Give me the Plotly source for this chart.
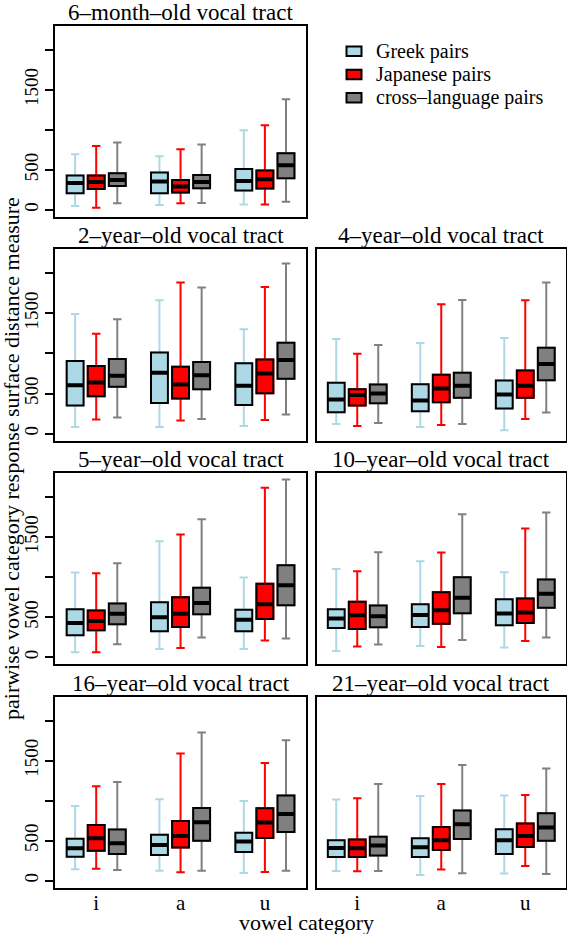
import plotly.graph_objects as go

W, H = 567, 934
FONT = "'Liberation Serif', 'Times New Roman', Times, serif"

vowels = ["i", "a", "u"]
vowel_ticks = [2, 6, 10]
series_names = ["Greek pairs", "Japanese pairs", "cross\u2013language pairs"]
fill_colors = ["#ADD8E6", "#FF0000", "#808080"]
panel_titles = ["6\u2013month\u2013old vocal tract", "2\u2013year\u2013old vocal tract",
                "4\u2013year\u2013old vocal tract", "5\u2013year\u2013old vocal tract",
                "10\u2013year\u2013old vocal tract", "16\u2013year\u2013old vocal tract",
                "21\u2013year\u2013old vocal tract"]
y_tickvals = [0, 500, 1000, 1500, 2000]
y_ticktext = ["0", "500", "", "1500", ""]

# per panel (6m, 2y, 4y, 5y, 10y, 16y, 21y), per vowel (i, a, u)
greek_hi = [[696, 671, 996], [1492, 1663, 1300], [1179, 1129, 1192], [1058, 1450, 996], [1104, 1200, 1063], [933, 1017, 996], [1013, 1058, 1063]]
greek_q3 = [[429, 467, 513], [904, 1013, 879], [633, 617, 663], [600, 688, 592], [600, 663, 725], [525, 575, 600], [504, 529, 642]]
greek_med = [[338, 354, 363], [604, 758, 596], [425, 413, 488], [429, 500, 467], [483, 529, 546], [404, 446, 488], [408, 417, 504]]
greek_q1 = [[208, 208, 242], [350, 383, 358], [267, 279, 313], [275, 325, 325], [367, 379, 400], [300, 321, 358], [296, 296, 333]]
greek_lo = [[50, 63, 67], [83, 83, 96], [121, 83, 42], [63, 104, 104], [79, 142, 121], [142, 125, 96], [121, 71, 88]]

japanese_hi = [[800, 758, 1058], [1246, 1883, 1829], [996, 1613, 1663], [1050, 1533, 2117], [1075, 1308, 1608], [1179, 1588, 1471], [1029, 1208, 1071]]
japanese_q3 = [[429, 375, 492], [842, 833, 925], [554, 733, 788], [583, 750, 917], [692, 813, 733], [696, 746, 904], [513, 671, 713]]
japanese_med = [[350, 292, 383], [638, 613, 750], [483, 563, 596], [454, 542, 663], [525, 588, 558], [529, 558, 725], [404, 504, 558]]
japanese_q1 = [[263, 217, 267], [467, 438, 504], [350, 392, 446], [338, 379, 479], [354, 417, 429], [375, 413, 533], [296, 383, 421]]
japanese_lo = [[29, 83, 67], [175, 163, 171], [96, 108, 183], [63, 117, 208], [133, 129, 204], [150, 104, 108], [117, 138, 183]]

cross_hi = [[842, 817, 1383], [1425, 1821, 2121], [1104, 1667, 1883], [1175, 1725, 2221], [1313, 1788, 1808], [1233, 1850, 1754], [1208, 1446, 1400]]
cross_q3 = [[458, 438, 708], [929, 892, 1133], [613, 758, 1071], [671, 867, 1150], [646, 1000, 971], [638, 908, 1063], [550, 875, 842]]
cross_med = [[375, 350, 558], [721, 729, 917], [500, 596, 867], [542, 679, 900], [513, 742, 792], [467, 729, 833], [438, 704, 663]]
cross_q1 = [[300, 271, 396], [583, 554, 683], [379, 446, 667], [413, 538, 650], [375, 550, 617], [333, 500, 608], [313, 521, 500]]
cross_lo = [[83, 88, 104], [200, 183, 238], [133, 121, 263], [163, 246, 233], [158, 217, 246], [133, 125, 125], [121, 92, 83]]

stats = [
    (greek_lo, greek_q1, greek_med, greek_q3, greek_hi),
    (japanese_lo, japanese_q1, japanese_med, japanese_q3, japanese_hi),
    (cross_lo, cross_q1, cross_med, cross_q3, cross_hi),
]

# layout geometry (pixels)
col_x = [(55.3, 305.8), (316.5, 566.0)]
row_y = [(26.0, 217.0), (249.3, 440.7), (473.3, 664.3), (696.7, 887.7)]
panel_cells = [(0, 0), (1, 0), (1, 1), (2, 0), (2, 1), (3, 0), (3, 1)]

fig = go.Figure()
layout = dict(width=W, height=H, margin=dict(l=0, r=0, t=0, b=0),
              paper_bgcolor="white", plot_bgcolor="white", showlegend=False,
              boxmode="overlay", font=dict(family=FONT, color="black", size=20))
annotations = []
shapes = []

BW = 0.8
for k, (r, c) in enumerate(panel_cells):
    ax = "" if k == 0 else str(k + 1)
    xref, yref = "x" + ax, "y" + ax
    for s in range(3):
        lo, q1, med, q3, hi = stats[s]
        pos = [4 * v + s + 1 for v in range(3)]
        # whiskers
        fig.add_trace(go.Box(x=pos, lowerfence=lo[k], q1=q1[k], median=med[k], q3=q3[k],
                             upperfence=hi[k], width=BW, whiskerwidth=0.5,
                             line=dict(color=fill_colors[s], width=2),
                             fillcolor="rgba(0,0,0,0)", boxpoints=False,
                             hoverinfo="skip", xaxis=xref, yaxis=yref))
        # box body
        fig.add_trace(go.Box(x=pos, lowerfence=q1[k], q1=q1[k], median=med[k], q3=q3[k],
                             upperfence=q3[k], width=BW, whiskerwidth=0,
                             line=dict(color="black", width=2),
                             fillcolor=fill_colors[s], boxpoints=False,
                             hoverinfo="skip", xaxis=xref, yaxis=yref))
        # thick median
        mx, my = [], []
        for v in range(3):
            mx += [pos[v] - BW / 2, pos[v] + BW / 2, None]
            my += [med[k][v], med[k][v], None]
        fig.add_trace(go.Scatter(x=mx, y=my, mode="lines", line=dict(color="black", width=4),
                                 hoverinfo="skip", xaxis=xref, yaxis=yref))

    x0, x1 = col_x[c]
    ytop, ybot = row_y[r]
    xa = dict(domain=[x0 / W, x1 / W], range=[0.06, 11.94], showgrid=False, zeroline=False,
              showline=True, mirror=True, linecolor="black", linewidth=2,
              anchor=yref, fixedrange=True)
    if r == 3:
        xa.update(tickmode="array", tickvals=vowel_ticks, ticktext=vowels, ticks="",
                  ticklabelstandoff=-5, tickfont=dict(size=21, family=FONT))
    else:
        xa.update(showticklabels=False, ticks="")
    ya = dict(domain=[1 - ybot / H, 1 - ytop / H], range=[-88, 2298], showgrid=False,
              zeroline=False, showline=True, mirror=True, linecolor="black", linewidth=2,
              anchor=xref, fixedrange=True)
    if c == 0:
        ya.update(tickmode="array", tickvals=y_tickvals, ticktext=y_ticktext, ticks="outside",
                  ticklen=8, tickwidth=2, tickcolor="black", tickangle=-90,
                  tickfont=dict(size=19, family=FONT))
    else:
        ya.update(showticklabels=False, ticks="")
    layout["xaxis" + ax] = xa
    layout["yaxis" + ax] = ya

    annotations.append(dict(text=panel_titles[k], x=(x0 + x1) / 2 / W, y=1 - ytop / H,
                            xref="paper", yref="paper", xanchor="center", yanchor="bottom",
                            yshift=-1, showarrow=False, font=dict(size=23, family=FONT)))

# legend
leg_y = [51.2, 74.5, 97.8]
for s in range(3):
    yc = leg_y[s]
    shapes.append(dict(type="rect", xref="paper", yref="paper",
                       x0=346.5 / W, x1=361.5 / W, y0=1 - (yc + 4.8) / H, y1=1 - (yc - 4.8) / H,
                       line=dict(color="black", width=2), fillcolor=fill_colors[s]))
    annotations.append(dict(text=series_names[s], x=374 / W, y=1 - yc / H, xref="paper",
                            yref="paper", xanchor="left", yanchor="middle", showarrow=False,
                            font=dict(size=20, family=FONT)))

# axis titles
annotations.append(dict(text="vowel category", x=306.5 / W, y=1 - 922 / H, xref="paper",
                        yref="paper", xanchor="center", yanchor="middle", showarrow=False,
                        font=dict(size=22, family=FONT)))
annotations.append(dict(text="pairwise vowel category response surface distance measure",
                        x=12 / W, y=1 - 459 / H, xref="paper", yref="paper", textangle=-90,
                        xanchor="center", yanchor="middle", showarrow=False,
                        font=dict(size=22, family=FONT)))

layout["annotations"] = annotations
layout["shapes"] = shapes
fig.update_layout(**layout)
fig.write_html("out.html")
